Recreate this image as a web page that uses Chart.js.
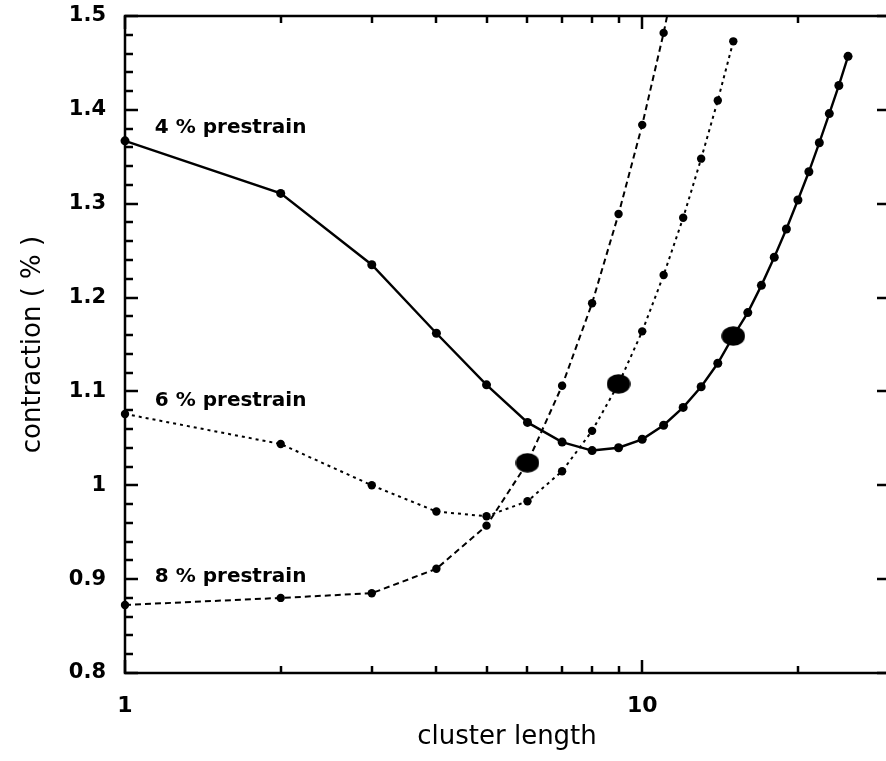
<!DOCTYPE html>
<html><head><meta charset="utf-8">
<script src="https://cdn.jsdelivr.net/npm/chart.js@4/dist/chart.umd.min.js"></script>
<style>html,body{margin:0;padding:0;background:#fff;overflow:hidden;width:886px;height:761px}
canvas{display:block}</style></head>
<body><canvas id="c" width="900" height="761"></canvas>
<script>
// ---- data ----
const len4 = [1,2,3,4,5,6,7,8,9,10,11,12,13,14,15,16,17,18,19,20,21,22,23,24,25];
const prestrain4 = [1.367,1.311,1.235,1.162,1.107,1.067,1.046,1.037,1.040,1.049,1.064,1.083,1.105,1.130,1.159,1.184,1.213,1.243,1.273,1.304,1.334,1.365,1.396,1.426,1.457];
const len6 = [1,2,3,4,5,6,7,8,9,10,11,12,13,14,15];
const prestrain6 = [1.076,1.044,1.000,0.972,0.967,0.983,1.015,1.058,1.108,1.164,1.224,1.285,1.348,1.410,1.473];
const len8 = [1,2,3,4,5,6,7,8,9,10,11,12];
const prestrain8 = [0.8725,0.880,0.885,0.911,0.957,1.024,1.106,1.194,1.289,1.384,1.482,1.583];
const criticalLength = [6,9,15];
const criticalContraction = [1.024,1.108,1.159];
const xTickValues = [1,2,3,4,5,6,7,8,9,10,20,30];
const xLabelValues = [1,10];
const yMin = 0.8, yMax = 1.5;
const seriesLabels = ['4 % prestrain','6 % prestrain','8 % prestrain'];
const labelX = [1.142,1.142,1.142];
const labelY = [1.381,1.090,0.902];

const pts = (xs, ys) => xs.map((v,i)=>({x:v, y:ys[i]}));

// big elliptical marker
const big = document.createElement('canvas');
big.width = 24; big.height = 20;
{ const g = big.getContext('2d'); g.fillStyle='#000'; g.beginPath(); g.ellipse(12,10,11.8,9.8,0,0,Math.PI*2); g.fill(); }

const frameTicks = {
  id:'frameTicks',
  afterDraw(chart){
    const {ctx, chartArea:a, scales:{x,y}} = chart;
    ctx.save();
    ctx.strokeStyle='#000'; ctx.lineWidth=2.5;
    ctx.strokeRect(a.left, a.top, a.right-a.left, a.bottom-a.top);
    ctx.beginPath();
    for (const v of xTickValues){
      const px = Math.round(x.getPixelForValue(v));
      const major = Math.abs(Math.log10(v)-Math.round(Math.log10(v)))<1e-9;
      const L = major?13:7;
      ctx.moveTo(px,a.bottom); ctx.lineTo(px,a.bottom-L);
      ctx.moveTo(px,a.top); ctx.lineTo(px,a.top+L);
    }
    for (let i=40;i<=75;i++){
      const v = i/50;
      const py = Math.round(y.getPixelForValue(v));
      const major = i%5===0;
      ctx.moveTo(a.left,py); ctx.lineTo(a.left+(major?13:8),py);
      if (major){ ctx.moveTo(a.right,py); ctx.lineTo(a.right-12,py); }
    }
    ctx.stroke();
    ctx.fillStyle='#000';
    ctx.font='bold 20px "DejaVu Sans"';
    ctx.textBaseline='middle'; ctx.textAlign='left';
    seriesLabels.forEach((t,i)=>{
      ctx.fillText(t, x.getPixelForValue(labelX[i]), y.getPixelForValue(labelY[i]));
    });
    ctx.restore();
  }
};

const clipBox = {left:8, top:0, right:8, bottom:8};

new Chart(document.getElementById('c'), {
  type:'line',
  data:{
    datasets:[
      {label:'4 %', data:pts(len4,prestrain4), borderColor:'#000', backgroundColor:'#000', borderWidth:2.4, pointRadius:4.5, pointBorderWidth:0, tension:0, clip:clipBox},
      {label:'6 %', data:pts(len6,prestrain6), borderColor:'#000', backgroundColor:'#000', borderWidth:2, borderDash:[3,4], pointRadius:4.2, pointBorderWidth:0, tension:0, clip:clipBox},
      {label:'8 %', data:pts(len8,prestrain8), borderColor:'#000', backgroundColor:'#000', borderWidth:2, borderDash:[6,4], pointRadius:4.2, pointBorderWidth:0, tension:0, clip:clipBox},
      {label:'critical', data:pts(criticalLength,criticalContraction), showLine:false, pointStyle:big, pointRadius:10, borderColor:'#000', backgroundColor:'#000', clip:clipBox}
    ]
  },
  options:{
    responsive:false, animation:false,
    layout:{padding:{top:16,right:7,left:0,bottom:0}},
    plugins:{legend:{display:false}, tooltip:{enabled:false}},
    scales:{
      x:{type:'logarithmic', min:1, max:30,
        grid:{display:false}, border:{display:false},
        afterBuildTicks(s){ s.ticks = xLabelValues.map(v=>({value:v})); },
        ticks:{color:'#000', font:{family:'DejaVu Sans', size:22, weight:'bold'}, padding:12, maxRotation:0, autoSkip:false,
          callback:(v)=>String(v)},
        title:{display:true, text:'cluster length', color:'#000', font:{family:'DejaVu Sans', size:26, lineHeight:1.54}},
        afterFit(s){ s.height = 88; s.paddingLeft = 0; s.paddingRight = 0; }
      },
      y:{type:'linear', min:yMin, max:yMax,
        grid:{display:false}, border:{display:false},
        ticks:{stepSize:0.1, color:'#000', font:{family:'DejaVu Sans', size:21, weight:'bold'}, padding:11,
          callback:(v)=>String(Math.round(v*10)/10)},
        title:{display:true, text:'contraction ( % )', color:'#000', font:{family:'DejaVu Sans', size:26, lineHeight:2.23}},
        afterFit(s){ s.width = 125; s.paddingTop = 0; s.paddingBottom = 0; }
      }
    }
  },
  plugins:[frameTicks]
});
</script>
</body></html>
